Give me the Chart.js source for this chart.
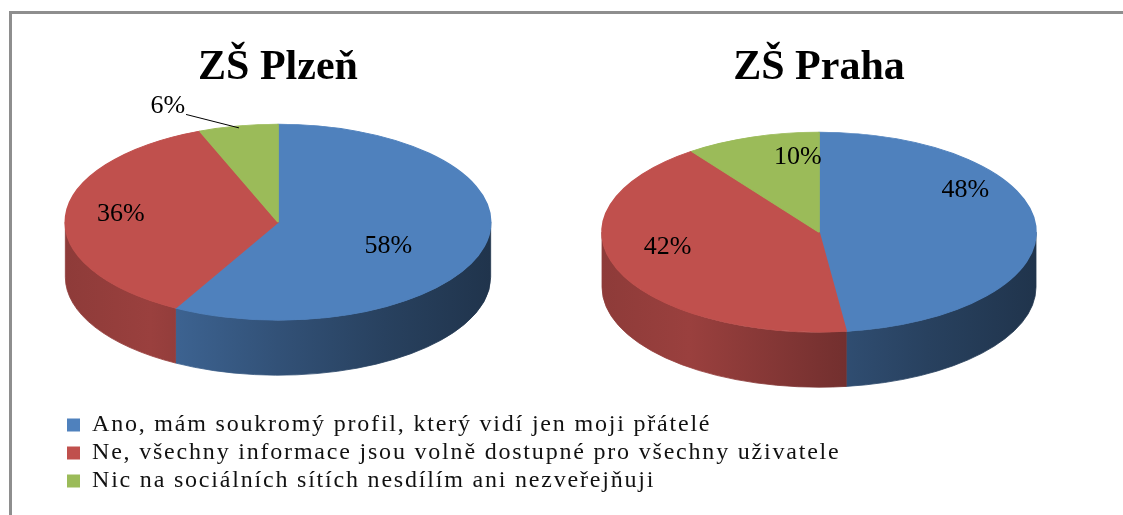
<!DOCTYPE html>
<html>
<head>
<meta charset="utf-8">
<script src="https://cdn.jsdelivr.net/npm/chart.js@4.4.1/dist/chart.umd.min.js"></script>
<style>
  html, body { margin: 0; padding: 0; background: #ffffff; }
  #wrap { position: relative; width: 1123px; height: 515px; overflow: hidden; background: #ffffff; }
  #frame { position: absolute; left: 9px; top: 11px; width: 1300px; height: 700px;
           border-top: 3px solid #8e8e8e; border-left: 3px solid #8e8e8e; }
  canvas { position: absolute; }
  #cPlzen { left: 0; top: 0; }
  #cPraha { left: 560px; top: 0; }
  #cLegend { left: 0; top: 395px; }
</style>
</head>
<body>
<div id="wrap">
  <div id="frame"></div>
  <canvas id="cPlzen" width="560" height="400"></canvas>
  <canvas id="cPraha" width="563" height="400"></canvas>
  <canvas id="cLegend" width="1123" height="120"></canvas>
</div>
<script>
// ---------- data ----------
const categories = [
  "Ano, mám soukromý profil, který vidí jen moji přátelé",
  "Ne, všechny informace jsou volně dostupné pro všechny uživatele",
  "Nic na sociálních sítích nesdílím ani nezveřejňuji"
];
const plzenValues = [58, 36, 6];
const prahaValues = [48, 42, 10];
const chartTitles = ["ZŠ Plzeň", "ZŠ Praha"];
const seriesColors = ["#4F81BD", "#C0504D", "#9BBB59"];

// ---------- helpers ----------
function shade(hex, f) {
  const n = parseInt(hex.slice(1), 16);
  const r = (n >> 16) & 255, g = (n >> 8) & 255, b = n & 255;
  return `rgb(${Math.round(r * f)},${Math.round(g * f)},${Math.round(b * f)})`;
}

Chart.defaults.font.family = "'Liberation Serif', 'Times New Roman', serif";

// 3D pie: draws the extruded side from the library's arc elements, then
// stretches the top face horizontally (tilt), and finally writes data labels.
const pie3d = {
  id: 'pie3d',
  beforeDatasetsDraw(chart, args, o) {
    const arcs = chart.getDatasetMeta(0).data;
    chart.$tilted = false;
    if (!arcs.length) return;
    const ctx = chart.ctx;
    const cx = arcs[0].x, cy = arcs[0].y, R = arcs[0].outerRadius;
    if (!(R > 0)) return;
    const rx = R * o.stretch, ry = R, d = o.depth;
    const colors = chart.data.datasets[0].backgroundColor;
    ctx.save();
    arcs.forEach((arc, i) => {
      const a = Math.max(arc.startAngle, 0), b = Math.min(arc.endAngle, Math.PI);
      if (b <= a) return;
      const g = ctx.createLinearGradient(cx - rx, 0, cx + rx, 0);
      o.shadeStops.forEach(([p, f]) => g.addColorStop(p, shade(colors[i], f)));
      ctx.beginPath();
      ctx.ellipse(cx, cy, rx, ry, 0, a, b, false);
      ctx.lineTo(cx + rx * Math.cos(b), cy + ry * Math.sin(b) + d);
      ctx.ellipse(cx, cy + d, rx, ry, 0, b, a, true);
      ctx.closePath();
      ctx.fillStyle = g;
      ctx.fill();
      ctx.strokeStyle = g;
      ctx.lineWidth = 0.8;
      ctx.stroke();
    });
    ctx.restore();
    ctx.save();
    ctx.translate(cx, cy);
    ctx.scale(o.stretch, 1);
    ctx.translate(-cx, -cy);
    chart.$tilted = true;
  },
  afterDatasetsDraw(chart, args, o) {
    const ctx = chart.ctx;
    if (chart.$tilted) ctx.restore();
    chart.$tilted = false;
    const arcs = chart.getDatasetMeta(0).data;
    if (!arcs.length || !(arcs[0].outerRadius > 0) || !o.labels) return;
    const cx = arcs[0].x, cy = arcs[0].y, R = arcs[0].outerRadius;
    const rx = R * o.stretch, ry = R;
    const data = chart.data.datasets[0].data;
    const total = data.reduce((s, v) => s + v, 0);
    ctx.save();
    ctx.font = o.labelFont;
    ctx.fillStyle = o.labelColor;
    ctx.textAlign = 'center';
    ctx.textBaseline = 'middle';
    arcs.forEach((arc, i) => {
      const L = o.labels[i];
      const mid = (arc.startAngle + arc.endAngle) / 2;
      const ang = mid + L.da * Math.PI / 180;
      const x = cx + rx * L.r * Math.cos(ang);
      const y = cy + ry * L.r * Math.sin(ang);
      const txt = Math.round(data[i] / total * 100) + '%';
      ctx.fillText(txt, x, y);
      if (L.leader) {
        const w = ctx.measureText(txt).width;
        ctx.beginPath();
        ctx.moveTo(x + w / 2 + 1, y + 8);
        ctx.lineTo(cx + rx * 0.98 * Math.cos(mid), cy + ry * 0.98 * Math.sin(mid));
        ctx.strokeStyle = o.labelColor;
        ctx.lineWidth = 1;
        ctx.stroke();
      }
    });
    ctx.restore();
  }
};

const shadeStops = [[0, 0.74], [0.2, 0.8], [0.5, 0.63], [0.75, 0.5], [1, 0.4]];

function pieConfig(values, title, radius, padding, labels) {
  return {
    type: 'pie',
    data: {
      labels: categories,
      datasets: [{
        data: values,
        backgroundColor: seriesColors,
        borderColor: seriesColors,
        borderWidth: 0.8,
        hoverOffset: 0,
        clip: false
      }]
    },
    options: {
      responsive: false,
      animation: false,
      events: [],
      radius: radius,
      layout: { padding: padding },
      plugins: {
        legend: { display: false },
        tooltip: { enabled: false },
        title: {
          display: true,
          text: title,
          color: '#000',
          font: { family: "'Liberation Serif', serif", size: 42, weight: 'bold' },
          padding: { top: 43, bottom: 7 }
        },
        pie3d: {
          stretch: 2.17,
          depth: 55,
          shadeStops: shadeStops,
          labelFont: "26px 'Liberation Serif', serif",
          labelColor: '#000',
          labels: labels
        }
      }
    },
    plugins: [pie3d]
  };
}

new Chart(document.getElementById('cPlzen'), pieConfig(
  plzenValues, chartTitles[0], 98,
  { left: 0, right: 4, top: 0, bottom: 56 },
  [{ r: 0.574, da: 10.9 }, { r: 0.743, da: 2.7 }, { r: 1.29, da: -12.9, leader: true }]
));

new Chart(document.getElementById('cPraha'), pieConfig(
  prahaValues, chartTitles[1], 100,
  { left: 0, right: 45, top: 0, bottom: 36 },
  [{ r: 0.794, da: -28.3 }, { r: 0.714, da: 9.5 }, { r: 0.756, da: 10.6 }]
));

// letter spacing of the legend text, as in the reference rendering
const legendSpacing = {
  id: 'legendSpacing',
  beforeDraw(chart, args, o) { chart.ctx.letterSpacing = o.spacing; },
  afterDraw(chart) { chart.ctx.letterSpacing = '0px'; }
};

// shared legend (library legend; the pie itself has zero radius)
new Chart(document.getElementById('cLegend'), {
  type: 'pie',
  data: {
    labels: categories,
    datasets: [{ data: plzenValues, backgroundColor: seriesColors, borderWidth: 0 }]
  },
  options: {
    responsive: false,
    animation: false,
    events: [],
    radius: 0,
    layout: { padding: { left: 63, right: 0, top: 14, bottom: 0 } },
    plugins: {
      tooltip: { enabled: false },
      legendSpacing: { spacing: '1.8px' },
      legend: {
        display: true,
        position: 'top',
        align: 'start',
        maxHeight: 200,
        labels: {
          boxWidth: 13,
          boxHeight: 13,
          padding: 4,
          color: '#111',
          font: { family: "'Liberation Serif', serif", size: 24 }
        }
      }
    }
  },
  plugins: [legendSpacing]
});
</script>
</body>
</html>
